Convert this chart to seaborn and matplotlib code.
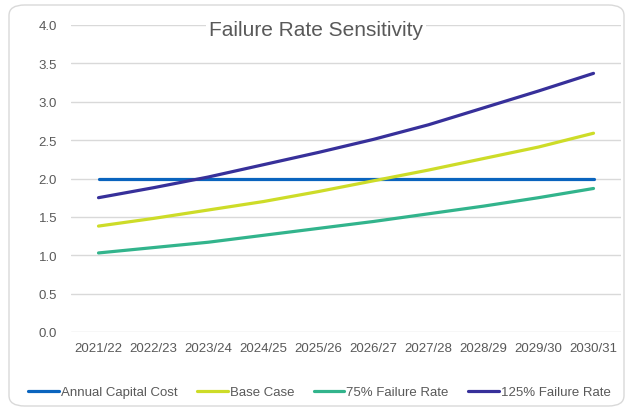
import matplotlib
matplotlib.use("Agg")
import matplotlib.pyplot as plt
from matplotlib.patches import FancyBboxPatch
from matplotlib.lines import Line2D
import seaborn as sns
import pandas as pd

years = ["2021/22", "2022/23", "2023/24", "2024/25", "2025/26",
         "2026/27", "2027/28", "2028/29", "2029/30", "2030/31"]
annual_capital_cost = [2.0, 2.0, 2.0, 2.0, 2.0, 2.0, 2.0, 2.0, 2.0, 2.0]
base_case = [1.38, 1.48, 1.59, 1.70, 1.83, 1.97, 2.11, 2.26, 2.41, 2.59]
failure_75 = [1.03, 1.10, 1.17, 1.26, 1.35, 1.44, 1.54, 1.64, 1.75, 1.87]
failure_125 = [1.75, 1.88, 2.02, 2.18, 2.34, 2.51, 2.70, 2.92, 3.14, 3.37]

series_names = ["Annual Capital Cost", "Base Case", "75% Failure Rate", "125% Failure Rate"]
series_vals = [annual_capital_cost, base_case, failure_75, failure_125]
colors = ["#0A64BE", "#CDDC28", "#32B48C", "#37309A"]

rows = []
for name, vals in zip(series_names, series_vals):
    for i, (yr, v) in enumerate(zip(years, vals)):
        rows.append({"idx": i, "year": yr, "value": v, "series": name})
df = pd.DataFrame(rows)

sns.set_style("white")
plt.rcParams["font.family"] = ["Liberation Sans", "DejaVu Sans"]

fig = plt.figure(figsize=(6.26, 4.14), dpi=100)
fig.patch.set_facecolor("white")

# rounded outer frame
frame = FancyBboxPatch((9 / 626, 7 / 414), 615 / 626, 401 / 414,
                       boxstyle="round,pad=0,rounding_size=0.025",
                       transform=fig.transFigure, facecolor="none",
                       edgecolor="#D9D9D9", linewidth=1.0, zorder=-10)
fig.patches.append(frame)

ax = fig.add_axes([71 / 626, 1 - 333 / 414, 550 / 626, 307 / 414])
ax.set_facecolor("none")

sns.lineplot(data=df, x="idx", y="value", hue="series", palette=colors,
             hue_order=series_names, linewidth=2.3, ax=ax, legend=False,
             sort=False)

ax.set_xlim(-0.5, 9.5)
ax.set_ylim(0, 4.0)
yt = [0, 0.5, 1.0, 1.5, 2.0, 2.5, 3.0, 3.5, 4.0]
ax.set_yticks(yt)
ax.set_yticklabels([f"{v:.1f}" for v in yt])
ax.set_xticks(range(len(years)))
ax.set_xticklabels(years)
ax.tick_params(axis="both", colors="#595959", labelsize=9.5, length=0)
ax.tick_params(axis="y", pad=10)
ax.tick_params(axis="x", pad=7)
ax.grid(axis="y", color="#D9D9D9", linewidth=1.0)
ax.grid(axis="x", visible=False)
ax.set_axisbelow(True)
for s in ax.spines.values():
    s.set_visible(False)
ax.set_xlabel("")
ax.set_ylabel("")

fig.text(316 / 626, 1 - 31 / 414, "Failure Rate Sensitivity", ha="center", va="center",
         fontsize=15, color="#595959", zorder=5,
         bbox=dict(facecolor="white", edgecolor="none", pad=2))

handles = [Line2D([0], [0], color=c, lw=2.3) for c in colors]
fig.legend(handles, series_names, loc="center", bbox_to_anchor=(319.5 / 626, 1 - 393 / 414),
           ncol=4, frameon=False, fontsize=9.5, labelcolor="#595959",
           handlelength=2.3, handletextpad=0.15, columnspacing=1.5)

fig.savefig("out.png", dpi=100, facecolor="white")
